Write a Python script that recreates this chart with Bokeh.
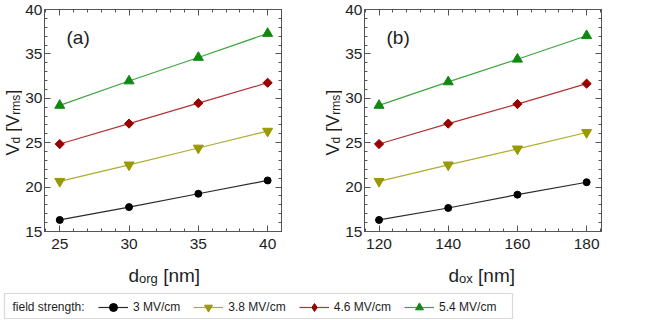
import numpy as np
from bokeh.plotting import figure
from bokeh.layouts import column, row
from bokeh.models import (Range1d, LinearAxis, SingleIntervalTicker, Label, BoxAnnotation,
                          Legend, LegendItem, CustomJSTickFormatter)
from bokeh.embed import file_html
from bokeh.resources import INLINE

# thickness sweeps
d_org = [25, 30, 35, 40]        # organic layer thickness [nm]
d_ox = [120, 140, 160, 180]     # oxide thickness [nm]

field_labels = ["3 MV/cm", "3.8 MV/cm", "4.6 MV/cm", "5.4 MV/cm"]

# V_d [V_rms] versus d_org
vd_org_3 = [16.3, 17.75, 19.25, 20.75]
vd_org_38 = [20.65, 22.5, 24.4, 26.3]
vd_org_46 = [24.85, 27.15, 29.45, 31.75]
vd_org_54 = [29.2, 31.95, 34.6, 37.3]

# V_d [V_rms] versus d_ox
vd_ox_3 = [16.3, 17.65, 19.15, 20.55]
vd_ox_38 = [20.65, 22.5, 24.3, 26.15]
vd_ox_46 = [24.85, 27.15, 29.35, 31.65]
vd_ox_54 = [29.2, 31.85, 34.4, 37.05]

FONT = "Liberation Sans"
TEXT = "#1e1e1e"
AXIS = "#555555"

STYLES = [
    dict(marker="circle", key="circle", size=7, angle=0.0, fill="#000000", line="#2a2a2a"),
    dict(marker="inverted_triangle", key="inverted_triangle", size=10, angle=0.0,
         fill="#999900", line="#adad2e"),
    dict(marker="square", key="diamond", size=6.5, angle=np.pi / 4, fill="#990000", line="#b03535"),
    dict(marker="triangle", key="triangle", size=10, angle=0.0, fill="#118811", line="#3da63d"),
]

# Arial / Liberation Sans advance widths (em) for the title characters
ADV = {"d": 0.556, "o": 0.556, "r": 0.333, "g": 0.556, "x": 0.5, " ": 0.278,
       "[": 0.278, "]": 0.278, "n": 0.556, "m": 0.833, "V": 0.667, "s": 0.5}

TOP_H = 257          # height of the panel row
FRAME_TOP, FRAME_BOTTOM = 9, 26
STRIP_W = 22         # width of the y-title strips


def rich_label(p, pieces, sx, sy, angle=0.0):
    """Lay out (text, size, baseline shift) pieces one after another."""
    pos = 0.0
    for text, size, shift in pieces:
        lead = len(text) - len(text.lstrip())
        pos += lead * ADV[" "] * size
        text = text.strip()
        if angle == 0.0:
            x, y = sx + pos, sy - shift
        else:
            x, y = sx + shift, sy + pos
        p.add_layout(Label(x=x, y=y, x_units="screen", y_units="screen",
                           text=text, angle=angle, text_font=FONT,
                           text_font_size=f"{size}px", text_color=TEXT,
                           text_align="left", text_baseline="alphabetic"))
        pos += sum(ADV[c] for c in text) * size


def bare_figure(width, height, **borders):
    p = figure(width=width, height=height, x_range=Range1d(0, 1), y_range=Range1d(0, 1),
               output_backend="svg", toolbar_location=None,
               x_axis_location=None, y_axis_location=None, **borders)
    p.grid.visible = False
    p.outline_line_color = None
    return p


def style_axis(ax, labels, standoff=4):
    ax.axis_line_color = AXIS
    ax.major_tick_line_color = AXIS
    ax.minor_tick_line_color = AXIS
    ax.major_tick_in = 6
    ax.major_tick_out = 0
    ax.minor_tick_in = 3
    ax.minor_tick_out = 0
    ax.major_label_text_font = FONT
    ax.major_label_text_font_size = "15.5px"
    ax.major_label_text_color = TEXT
    ax.major_label_standoff = standoff
    if not labels:
        ax.formatter = CustomJSTickFormatter(code="return ''")
        ax.major_label_standoff = 0


def make_panel(xs, series, xr, x_step, tag, width, border_right):
    p = figure(width=width, height=TOP_H, x_range=Range1d(*xr), y_range=Range1d(15, 40),
               output_backend="svg", toolbar_location=None,
               x_axis_location=None, y_axis_location=None,
               min_border_left=41 - STRIP_W, min_border_right=border_right,
               min_border_top=FRAME_TOP, min_border_bottom=FRAME_BOTTOM)
    p.grid.visible = False
    p.outline_line_color = AXIS

    for side, labels in (("below", True), ("above", False)):
        ax = LinearAxis(ticker=SingleIntervalTicker(interval=x_step, num_minor_ticks=5))
        style_axis(ax, labels, standoff=7)
        p.add_layout(ax, side)
    for side, labels in (("left", True), ("right", False)):
        ax = LinearAxis(ticker=SingleIntervalTicker(interval=5, num_minor_ticks=5))
        style_axis(ax, labels, standoff=2)
        p.add_layout(ax, side)

    for ys, st in zip(series, STYLES):
        p.line(xs, ys, line_color=st["line"], line_width=1.2)
        p.scatter(xs, ys, marker=st["marker"], size=st["size"], angle=st["angle"],
                  fill_color=st["fill"], line_color=st["fill"])

    # panel tag
    p.add_layout(Label(x=22, y=184, x_units="screen", y_units="screen", text=tag,
                       text_font=FONT, text_font_size="19px", text_color=TEXT))
    return p


def y_title_strip():
    s = bare_figure(STRIP_W, TOP_H, min_border_left=0, min_border_right=0,
                    min_border_top=FRAME_TOP, min_border_bottom=FRAME_BOTTOM)
    # V_d [V_rms], reading upwards
    rich_label(s, [("V", 18, 0), ("d", 12, 2.5), (" [V", 18, 0), ("rms", 12, 2.5), ("]", 18, 0)],
               12.5, 76, angle=np.pi / 2)
    return s


pa = make_panel(d_org, [vd_org_3, vd_org_38, vd_org_46, vd_org_54],
                (23.9, 41.0), 5, "(a)", 320 - STRIP_W, 39)
pb = make_panel(d_ox, [vd_ox_3, vd_ox_38, vd_ox_46, vd_ox_54],
                (115.8, 184.3), 20, "(b)", 328 - STRIP_W, 47)

# bottom strip: x titles and the shared legend
strip = bare_figure(648, 320 - TOP_H, min_border_left=0, min_border_right=0,
                    min_border_top=0, min_border_bottom=0)
rich_label(strip, [("d", 19, 0), ("org", 13, 3), (" [nm]", 19, 0)], 128, 45)
rich_label(strip, [("d", 19, 0), ("ox", 13, 3), (" [nm]", 19, 0)], 448, 45)

strip.add_layout(BoxAnnotation(left=4, right=512, bottom=2, top=27,
                               left_units="screen", right_units="screen",
                               bottom_units="screen", top_units="screen",
                               fill_color=None, line_color="#808080", line_width=1.2))

items = []
for lab, st in zip(field_labels, STYLES):
    rl = strip.line(x=[np.nan], y=[np.nan], line_color=st["line"], line_width=1.2)
    rm = strip.scatter(x=[np.nan], y=[np.nan], marker=st["key"], size=st["size"],
                       fill_color=st["fill"], line_color=st["fill"])
    items.append(LegendItem(label=lab, renderers=[rl, rm]))

legend = Legend(items=items, orientation="horizontal", location=(98, 3.5),
                glyph_width=30, glyph_height=20, label_standoff=5, spacing=13,
                padding=0, margin=0, border_line_alpha=0, background_fill_alpha=0,
                label_text_font=FONT, label_text_font_size="12px", label_text_color=TEXT)
strip.add_layout(legend)
strip.add_layout(Label(x=12, y=13.5, x_units="screen", y_units="screen", text="field strength:",
                       text_font=FONT, text_font_size="12px", text_color=TEXT,
                       text_baseline="middle"))

layout = column(row(y_title_strip(), pa, y_title_strip(), pb), strip)

with open("out.html", "w") as f:
    f.write(file_html(layout, INLINE))
